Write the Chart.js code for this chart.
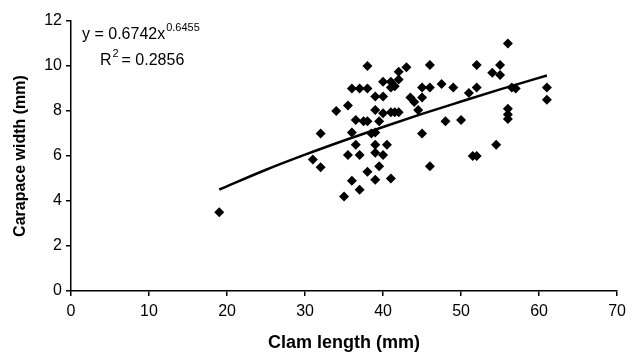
<!DOCTYPE html>
<html>
<head>
<meta charset="utf-8">
<script src="https://cdn.jsdelivr.net/npm/chart.js@4/dist/chart.umd.min.js"></script>
<style>
  html, body { margin: 0; padding: 0; background: #fff; }
  #wrap { width: 632px; height: 358px; position: relative; }
</style>
</head>
<body>
<div id="wrap"><canvas id="chart-area"></canvas></div>
<script>
// clam length (mm) vs carapace width (mm)
var clamLength = [
    19, 31, 32, 32, 34, 35.5, 35, 36, 37, 35.5,
    37, 36.5, 36, 36, 37, 38, 38, 36.5, 37.5, 38,
    38, 38.5, 39, 39, 39, 39, 39, 39, 39.5, 39.5,
    40, 40, 40, 40, 40.5, 41, 41, 41, 41, 41.5,
    41.5, 42, 42, 42, 43, 43.5, 44, 44.5, 45, 45,
    45, 46, 46, 46, 47.5, 48, 49, 50, 51, 51.5,
    52, 52, 52, 54, 54.5, 55, 55, 56, 56, 56,
    56, 56.5, 57, 61, 61
];
var carapaceWidth = [
    3.5, 5.85, 5.5, 7.0, 8.0, 8.25, 4.2, 4.9, 4.5, 6.05,
    6.05, 6.5, 7.05, 9.0, 9.0, 9.0, 10.0, 7.6, 7.55, 7.55,
    5.3, 7.0, 7.05, 8.05, 8.65, 6.5, 6.15, 4.95, 5.55, 7.55,
    8.65, 9.3, 7.9, 6.05, 6.5, 5.0, 7.95, 9.3, 9.05, 9.1,
    7.95, 9.4, 9.75, 7.95, 9.95, 8.6, 8.4, 8.05, 8.6, 9.05,
    7.0, 9.05, 10.05, 5.55, 9.2, 7.55, 9.05, 7.6, 8.8, 6.0,
    6.0, 9.05, 10.05, 9.7, 6.5, 9.6, 10.05, 11.0, 8.1, 7.85,
    7.65, 9.05, 9.0, 9.05, 8.5
];

// power trend line as drawn (y = 0.6742x^0.6455)
var trendLength = [19, 25, 30, 35, 40, 45, 50, 55, 61];
var trendWidth = [4.51, 5.39, 6.06, 6.69, 7.29, 7.87, 8.42, 8.96, 9.58];

var equationText = 'y = 0.6742x';
var equationPower = '0.6455';
var r2Text = '= 0.2856';

var FONT = '"Liberation Sans", Arial, sans-serif';

function toPoints(xs, ys) {
    var pts = [];
    for (var i = 0; i < xs.length; i++) {
        pts.push({x: xs[i], y: ys[i]});
    }
    return pts;
}

var equationPlugin = {
    id: 'equation',
    afterDatasetsDraw: function (chart) {
        var ctx = chart.ctx;
        ctx.save();
        ctx.fillStyle = '#000';
        ctx.textBaseline = 'alphabetic';
        ctx.font = '16px ' + FONT;
        var x = 82, y = 39;
        ctx.fillText(equationText, x, y);
        var w = ctx.measureText(equationText).width;
        ctx.font = '11px ' + FONT;
        ctx.fillText(equationPower, x + w + 1, y - 8);

        ctx.font = '16px ' + FONT;
        var rx = 100, ry = 65;
        ctx.fillText('R', rx, ry);
        var rw = ctx.measureText('R').width;
        ctx.font = '11px ' + FONT;
        ctx.fillText('2', rx + rw + 1, ry - 8);
        ctx.font = '16px ' + FONT;
        ctx.fillText(r2Text, rx + rw + 10, ry);
        ctx.restore();
    }
};

var scatter_config = {
    type: 'scatter',
    data: {
        datasets: [{
            data: toPoints(clamLength, carapaceWidth),
            pointStyle: 'rectRot',
            pointRadius: 5,
            pointBackgroundColor: '#000',
            pointBorderColor: '#000',
            pointBorderWidth: 0,
            order: 1
        }, {
            data: toPoints(trendLength, trendWidth),
            showLine: true,
            borderColor: '#000',
            borderWidth: 2.5,
            pointRadius: 0,
            cubicInterpolationMode: 'monotone',
            fill: false,
            order: 0
        }]
    },
    options: {
        responsive: true,
        maintainAspectRatio: false,
        animation: false,
        events: [],
        layout: {
            padding: {left: 0, top: 21, right: 11, bottom: 0}
        },
        plugins: {
            legend: {display: false},
            tooltip: {enabled: false}
        },
        scales: {
            x: {
                type: 'linear',
                min: 0,
                max: 70,
                ticks: {
                    stepSize: 10,
                    color: '#000',
                    padding: 6,
                    maxRotation: 0,
                    font: {family: FONT, size: 16}
                },
                grid: {
                    drawOnChartArea: false,
                    drawTicks: true,
                    tickLength: 5,
                    color: '#000',
                    lineWidth: 1.5
                },
                border: {display: true, color: '#000', width: 1.5},
                title: {
                    display: true,
                    text: 'Clam length (mm)',
                    color: '#000',
                    font: {family: FONT, size: 18, weight: 'bold'},
                    padding: {top: 0, bottom: 4}
                },
                afterFit: function (scale) { scale.height = 67; }
            },
            y: {
                type: 'linear',
                min: 0,
                max: 12,
                ticks: {
                    stepSize: 2,
                    color: '#000',
                    padding: 4,
                    font: {family: FONT, size: 16}
                },
                grid: {
                    drawOnChartArea: false,
                    drawTicks: true,
                    tickLength: 5,
                    color: '#000',
                    lineWidth: 1.5
                },
                border: {display: true, color: '#000', width: 1.5},
                title: {
                    display: true,
                    text: 'Carapace width (mm)',
                    color: '#000',
                    font: {family: FONT, size: 16, weight: 'bold'},
                    padding: {top: 11, bottom: 0}
                },
                afterFit: function (scale) { scale.width = 71; }
            }
        }
    },
    plugins: [equationPlugin]
};

var ctx = document.getElementById('chart-area').getContext('2d');
var chart = new Chart(ctx, scatter_config);
</script>
</body>
</html>
